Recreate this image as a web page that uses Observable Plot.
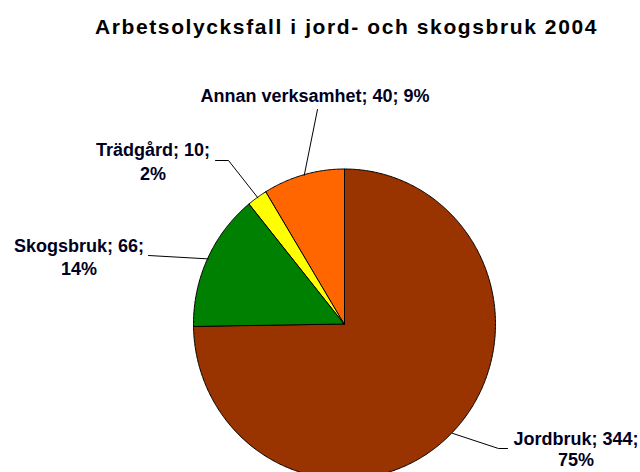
<!DOCTYPE html>
<html>
<head>
<meta charset="utf-8">
<script src="https://cdn.jsdelivr.net/npm/d3@7"></script>
<script src="https://cdn.jsdelivr.net/npm/@observablehq/plot@0.6"></script>
<style>
  html, body { margin: 0; padding: 0; background: #fff; }
</style>
</head>
<body>
<div id="chart"></div>
<script>
// ---- data ----
const title = "Arbetsolycksfall i jord- och skogsbruk 2004";
const categories = ["Jordbruk", "Skogsbruk", "Trädgård", "Annan verksamhet"];
const values = [344, 66, 10, 40];
const percents = ["75%", "14%", "2%", "9%"];
const colors = ["#993300", "#008000", "#FFFF00", "#FF6600"];

// ---- geometry helpers (pixel estimates -> unit-circle data coords) ----
const W = 640, H = 472;
const CX = 344.5, CY = 324, RX = 151, RY = 155;
const fx = (px) => (px - CX) / RX;
const fy = (py) => (CY - py) / RY;

// pie angles (clockwise from 12 o'clock)
const total = d3.sum(values);
let acc = 0;
const slices = categories.map((c, i) => {
  const a0 = (acc / total) * 2 * Math.PI;
  acc += values[i];
  const a1 = (acc / total) * 2 * Math.PI;
  return {cat: c, value: values[i], pct: percents[i], a0, a1, mid: (a0 + a1) / 2};
});

// arc points for each slice (area from center to arc)
const arcPts = [];
for (const s of slices) {
  const n = Math.max(2, Math.ceil((s.a1 - s.a0) / (Math.PI / 360)));
  for (let k = 0; k <= n; k++) {
    const a = s.a0 + (s.a1 - s.a0) * k / n;
    arcPts.push({cat: s.cat, x1: 0, y1: 0, x2: Math.sin(a), y2: Math.cos(a)});
  }
}

// label layout (pixel estimates): text lines and leader end points
const layout = {
  "Jordbruk": {cx: 575.5, lines: [[`Jordbruk; 344;`, 444], ["75%", 465]], leader: [[498, 448], [507, 448]]},
  "Skogsbruk": {cx: 78.5, lines: [["Skogsbruk; 66;", 251], ["14%", 274]], leader: [[148, 255]]},
  "Trädgård": {cx: 152.5, lines: [["Trädgård; 10;", 155.5], ["2%", 179]], leader: [[228, 160], [215, 160]]},
  "Annan verksamhet": {cx: 314.5, lines: [["Annan verksamhet; 40; 9%", 101]], leader: [[317, 109]]}
};

const labelRows = [];
const leaderRows = [];
for (const s of slices) {
  const L = layout[s.cat];
  for (const [t, by] of L.lines) labelRows.push({text: t, x: fx(L.cx), y: fy(by)});
  leaderRows.push({cat: s.cat, x: Math.sin(s.mid), y: Math.cos(s.mid)});
  for (const [px, py] of L.leader) leaderRows.push({cat: s.cat, x: fx(px), y: fy(py)});
}

const plot = Plot.plot({
  width: W,
  height: H,
  margin: 0,
  x: {domain: [fx(0), fx(W)], axis: null},
  y: {domain: [fy(H), fy(0)], axis: null},
  color: {domain: categories, range: colors},
  style: {fontFamily: "'Liberation Sans', Arial, sans-serif", background: "#fff"},
  marks: [
    Plot.area(arcPts, {
      x1: "x1", y1: "y1", x2: "x2", y2: "y2",
      z: "cat", fill: "cat", stroke: "#000", strokeWidth: 1, strokeLinejoin: "round"
    }),
    Plot.line(leaderRows, {x: "x", y: "y", z: "cat", stroke: "#000", strokeWidth: 1}),
    Plot.text(labelRows, {
      x: "x", y: "y", text: "text",
      fontSize: 18, fontWeight: "bold", fill: "#000022",
      textAnchor: "middle", lineAnchor: "bottom"
    }),
    Plot.text([title], {
      x: fx(346), y: fy(33), text: (d) => d,
      fontSize: 21, fontWeight: "bold", fill: "#000000",
      textAnchor: "middle", lineAnchor: "bottom"
    })
  ]
});

// letter spacing for the title
for (const t of plot.querySelectorAll("text")) {
  if (t.textContent === title) t.style.letterSpacing = "1.6px";
}

document.getElementById("chart").appendChild(plot);
</script>
</body>
</html>
